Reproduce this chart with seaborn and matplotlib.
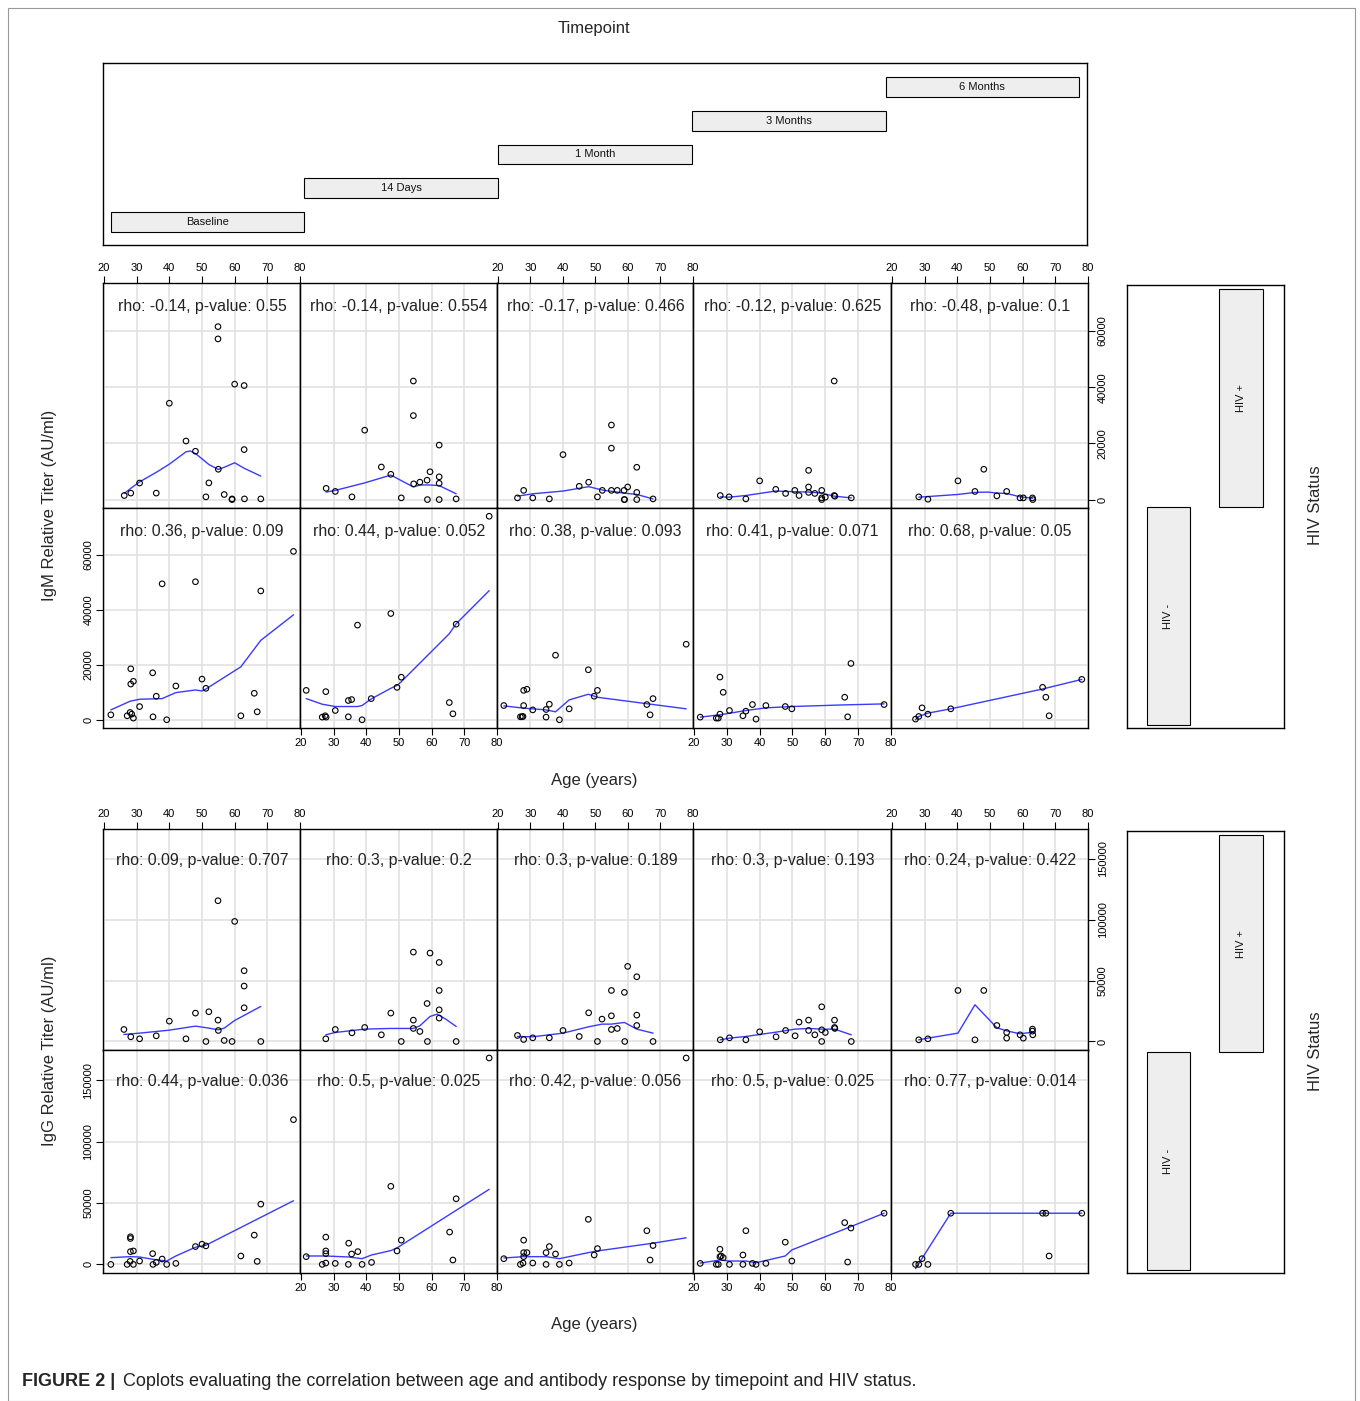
import numpy as np
import pandas as pd
import matplotlib
matplotlib.use('Agg')
import matplotlib.pyplot as plt
from matplotlib.patches import Rectangle
import seaborn as sns

# ---- data ----
timepoints = ['Baseline', '14 Days', '1 Month', '3 Months', '6 Months']
hiv_levels = ['HIV -', 'HIV +']

# IgM, HIV+ (upper row of the IgM coplot)
igm_pos_age = [
    [26.2, 28.2, 30.9, 36.0, 40.0, 45.1, 48.0, 51.2, 52.1, 54.9, 54.9, 55.0, 56.8, 59.2, 59.2, 60.0, 62.9, 62.9, 63.0, 68.0],
    [27.7, 30.5, 35.6, 39.5, 44.6, 47.5, 50.7, 54.4, 54.4, 54.5, 56.4, 58.6, 58.7, 59.5, 62.3, 62.3, 62.3, 62.3, 67.5],
    [26.0, 27.9, 30.7, 35.8, 40.0, 45.0, 47.9, 50.6, 52.1, 54.9, 54.9, 54.9, 56.7, 58.8, 58.9, 58.9, 59.9, 62.7, 62.7, 62.7, 67.7],
    [28.0, 30.7, 35.8, 40.0, 44.9, 47.9, 50.7, 52.0, 54.9, 54.9, 54.9, 56.8, 58.9, 58.9, 58.9, 60.0, 62.7, 62.7, 62.9, 67.9],
    [28.2, 31.0, 40.2, 45.4, 48.1, 52.1, 55.1, 59.2, 60.2, 63.0, 63.1],
]
igm_pos_val = [
    [1450, 2300, 5900, 2300, 34300, 20850, 17200, 970, 5940, 61570, 57200, 10790, 1800, 240, 0, 41090, 40600, 17800, 240, 240],
    [4000, 2900, 970, 24700, 11600, 9000, 600, 42200, 29900, 5600, 6200, 6900, 0, 9900, 19400, 8100, 5800, 0, 240],
    [600, 3270, 600, 240, 16000, 4730, 6180, 970, 3270, 26540, 18300, 3270, 3270, 3270, 0, 0, 4480, 11500, 2550, 0, 240],
    [1450, 970, 240, 6670, 3640, 2180, 3270, 1450, 10400, 4480, 2550, 2180, 3270, 600, 0, 850, 42200, 1450, 1210, 600],
    [970, 120, 6670, 2900, 10790, 1330, 2900, 600, 600, 600, 0],
]
igm_pos_fit_age = [
    [26.2, 28.2, 30.9, 36.0, 40.0, 45.1, 46.4, 48.0, 52.1, 55.0, 56.8, 60.0, 62.9, 68.0],
    [27.7, 30.5, 39.5, 47.5, 54.4, 56.4, 59.5, 62.3, 67.5],
    [26.0, 30.7, 40.0, 47.9, 52.1, 58.8, 62.7, 67.7],
    [28.0, 30.7, 35.8, 44.9, 50.7, 54.9, 58.9, 62.7, 67.9],
    [28.2, 40.2, 45.4, 49.4, 52.1, 55.1, 59.2, 63.1],
]
igm_pos_fit_val = [
    [2180, 4000, 6300, 9700, 12600, 17000, 17300, 16400, 12500, 10700, 11500, 13100, 11150, 8360],
    [2670, 3270, 5940, 8730, 4480, 5200, 5200, 4970, 2060],
    [1210, 2060, 3030, 4600, 3390, 2300, 1820, 240],
    [970, 850, 1450, 3030, 2790, 2670, 2300, 1210, 600],
    [850, 1820, 2550, 2670, 2300, 2180, 970, 480],
]

# IgM, HIV- (lower row of the IgM coplot)
igm_neg_age = [
    [22.1, 27.1, 28.0, 28.2, 28.2, 28.5, 29.0, 29.0, 30.9, 34.9, 35.0, 36.0, 37.8, 39.2, 42.0, 48.0, 50.0, 51.2, 61.9, 66.0, 66.9, 68.0, 78.0],
    [21.6, 26.5, 27.4, 27.6, 27.7, 30.5, 34.5, 34.5, 35.5, 37.3, 38.7, 41.5, 47.5, 49.4, 50.7, 65.4, 66.5, 67.5, 77.6],
    [21.8, 26.9, 27.4, 27.7, 27.9, 27.9, 28.9, 30.7, 34.8, 34.8, 35.8, 37.7, 38.9, 41.9, 47.8, 49.6, 50.6, 65.8, 66.8, 67.7, 77.9],
    [21.9, 26.8, 27.4, 27.9, 27.9, 28.9, 30.8, 34.9, 35.8, 37.8, 38.9, 41.9, 47.8, 49.8, 65.9, 66.8, 67.8, 77.9],
    [27.2, 28.2, 29.2, 31.0, 38.0, 66.1, 67.1, 68.1, 78.1],
]
igm_neg_val = [
    [1800, 1450, 2650, 18560, 13000, 2050, 14000, 600, 4800, 17100, 1080, 8560, 49500, 0, 12300, 50250, 14800, 11450, 1450, 9640, 2900, 46900, 61300],
    [10700, 960, 1450, 10240, 960, 3370, 1080, 7000, 7350, 34460, 0, 7700, 38680, 11800, 15500, 6270, 2170, 34800, 74100],
    [5180, 1080, 1080, 1200, 5180, 10700, 11100, 3600, 3740, 960, 5660, 23500, 0, 3980, 18200, 8560, 10700, 5540, 1800, 7700, 27500],
    [960, 600, 600, 2050, 15540, 10000, 3370, 1450, 3130, 5540, 240, 5180, 4820, 3980, 8200, 1080, 20500, 5540],
    [240, 1200, 4340, 2050, 3980, 11800, 8200, 1450, 14700],
]
igm_neg_fit_age = [
    [22.1, 28.0, 30.9, 37.8, 42.0, 48.0, 50.0, 51.2, 61.9, 68.0, 78.0],
    [21.6, 26.5, 30.5, 37.3, 38.7, 41.5, 47.5, 49.4, 50.7, 65.4, 67.5, 77.6],
    [21.8, 27.9, 34.8, 37.7, 41.9, 47.8, 50.6, 77.9],
    [21.9, 27.9, 35.8, 41.9, 49.8, 65.9, 77.9],
    [27.2, 28.2, 31.0, 38.0, 66.1, 78.1],
]
igm_neg_fit_val = [
    [3600, 6750, 7470, 7710, 9880, 10850, 10480, 11200, 19280, 28920, 38200],
    [7700, 5660, 4820, 4820, 5180, 7600, 11450, 12530, 13860, 31330, 34950, 47000],
    [5060, 4220, 3600, 2890, 7230, 9280, 8190, 3980],
    [960, 1800, 3370, 4340, 4820, 5420, 5780],
    [0, 1200, 2410, 3980, 11200, 14700],
]

# IgG, HIV+
igg_pos_age = [
    [26.1, 28.2, 30.9, 36.0, 40.0, 45.1, 48.0, 51.2, 52.1, 54.9, 54.9, 55.0, 56.8, 59.2, 60.0, 62.9, 62.9, 62.9, 68.0],
    [27.6, 30.5, 35.6, 39.5, 44.6, 47.5, 50.7, 54.4, 54.4, 54.4, 56.4, 58.6, 58.7, 59.5, 62.3, 62.3, 62.3, 62.3, 67.5],
    [26.0, 27.9, 30.7, 35.8, 40.0, 45.0, 47.9, 50.6, 52.0, 54.9, 54.9, 54.9, 56.7, 58.9, 59.0, 59.9, 62.7, 62.7, 62.7, 67.7],
    [28.0, 30.8, 35.8, 40.0, 45.0, 47.9, 50.8, 52.0, 54.9, 54.9, 56.8, 58.9, 58.9, 58.9, 60.0, 62.8, 62.8, 62.9, 67.9],
    [28.2, 31.0, 40.2, 45.4, 48.1, 52.1, 55.1, 55.1, 59.2, 60.2, 63.0, 63.0, 63.1],
]
igg_pos_val = [
    [9860, 3840, 2190, 4660, 16700, 2190, 23300, 0, 24400, 115600, 17540, 9040, 820, 0, 98600, 58100, 45500, 27700, 0],
    [2190, 9860, 7120, 11500, 5480, 23300, 0, 73400, 17540, 10700, 8220, 31200, 0, 72600, 64900, 41900, 26000, 19200, 0],
    [4930, 1640, 3010, 3010, 9040, 4110, 23560, 0, 18360, 21100, 9860, 41900, 10700, 40300, 0, 61650, 53160, 21650, 13150, 0],
    [1370, 3010, 1370, 7950, 3840, 9040, 4660, 15900, 17540, 9040, 5480, 28500, 9590, 0, 7400, 17540, 11500, 10700, 0],
    [1370, 2190, 41900, 1370, 41900, 13150, 7400, 2740, 5480, 2740, 10140, 8500, 5480],
]
igg_pos_fit_age = [
    [26.1, 30.9, 40.0, 48.0, 52.1, 55.0, 56.8, 60.0, 68.0],
    [27.6, 30.5, 39.5, 47.5, 54.4, 56.4, 59.5, 61.7, 64.3, 67.5],
    [26.0, 30.7, 40.0, 47.9, 52.0, 54.9, 58.9, 62.7, 67.7],
    [28.0, 30.8, 35.8, 45.0, 50.8, 54.9, 58.9, 62.8, 67.9],
    [28.2, 31.0, 40.2, 45.4, 52.1, 55.1, 59.2, 63.1],
]
igg_pos_fit_val = [
    [5750, 6850, 9300, 12600, 10960, 9590, 10960, 17260, 28770],
    [5480, 7400, 10140, 10700, 10700, 12900, 20550, 22470, 18360, 12330],
    [4110, 3840, 6850, 12060, 14250, 14250, 15620, 10140, 6850],
    [1370, 2740, 4110, 7670, 10140, 10700, 10140, 10140, 5480],
    [1370, 2740, 6850, 30140, 11230, 8770, 6300, 7670],
]

# IgG, HIV-
igg_neg_age = [
    [22.1, 27.1, 28.0, 28.1, 28.1, 28.1, 29.0, 29.0, 30.9, 34.9, 35.0, 36.0, 37.8, 39.2, 42.0, 48.0, 50.0, 51.2, 61.9, 66.0, 66.9, 68.0, 78.0],
    [21.6, 26.5, 27.6, 27.6, 27.6, 27.6, 30.5, 34.5, 34.6, 35.5, 37.4, 38.7, 41.6, 47.5, 49.4, 50.7, 65.5, 66.5, 67.5, 77.6],
    [21.8, 26.9, 27.7, 27.9, 27.9, 28.9, 27.9, 30.7, 34.8, 34.8, 35.8, 37.7, 38.9, 41.9, 47.8, 49.6, 50.6, 65.8, 66.8, 67.7, 77.9],
    [21.9, 26.8, 27.4, 27.9, 27.9, 28.3, 28.9, 30.8, 34.9, 34.9, 35.8, 37.8, 38.9, 41.9, 47.8, 49.8, 65.9, 66.8, 67.8, 77.9],
    [27.2, 28.2, 29.2, 31.0, 38.0, 66.1, 67.1, 68.1, 78.1],
]
igg_neg_val = [
    [0, 0, 2470, 10400, 21100, 22470, 10960, 0, 2740, 8770, 0, 1640, 4380, 0, 820, 14520, 16440, 15070, 6850, 23840, 2470, 49050, 117800],
    [6300, 0, 1100, 10960, 8770, 22200, 820, 0, 17260, 8490, 10400, 0, 1640, 63570, 10960, 19730, 26300, 3560, 53430, 168000],
    [4660, 0, 1100, 6300, 9590, 9590, 19730, 1100, 9590, 0, 14520, 8490, 0, 1100, 36700, 7670, 12880, 27400, 3560, 15340, 168000],
    [820, 0, 0, 6300, 12330, 6850, 5480, 0, 0, 7670, 27400, 820, 0, 820, 18080, 2740, 33980, 1920, 29600, 41650],
    [0, 0, 4660, 0, 41650, 41650, 41650, 6850, 41650],
]
igg_neg_fit_age = [
    [22.1, 28.0, 30.9, 35.0, 39.2, 42.0, 48.0, 51.2, 78.0],
    [21.6, 27.6, 34.5, 38.7, 41.6, 47.5, 49.4, 77.6],
    [21.8, 27.9, 34.8, 38.9, 47.8, 50.6, 67.7, 77.9],
    [21.9, 27.9, 30.8, 35.8, 38.9, 47.8, 49.8, 65.9, 77.9],
    [27.2, 38.0, 78.1],
]
igg_neg_fit_val = [
    [5480, 6300, 6030, 4110, 2740, 6850, 13970, 15620, 51790],
    [6850, 6850, 6030, 4660, 7670, 11230, 13430, 61100],
    [5210, 6300, 6300, 4660, 9590, 10960, 17260, 21650],
    [1100, 3560, 2740, 2740, 1370, 6850, 11780, 28770, 41650],
    [-3500, 41650, 41650],
]

igm_pos_labels = ['rho: -0.14, p-value: 0.55', 'rho: -0.14, p-value: 0.554', 'rho: -0.17, p-value: 0.466',
                  'rho: -0.12, p-value: 0.625', 'rho: -0.48, p-value: 0.1']
igm_neg_labels = ['rho: 0.36, p-value: 0.09', 'rho: 0.44, p-value: 0.052', 'rho: 0.38, p-value: 0.093',
                  'rho: 0.41, p-value: 0.071', 'rho: 0.68, p-value: 0.05']
igg_pos_labels = ['rho: 0.09, p-value: 0.707', 'rho: 0.3, p-value: 0.2', 'rho: 0.3, p-value: 0.189',
                  'rho: 0.3, p-value: 0.193', 'rho: 0.24, p-value: 0.422']
igg_neg_labels = ['rho: 0.44, p-value: 0.036', 'rho: 0.5, p-value: 0.025', 'rho: 0.42, p-value: 0.056',
                  'rho: 0.5, p-value: 0.025', 'rho: 0.77, p-value: 0.014']

age_ticks = [20, 30, 40, 50, 60, 70, 80]
igm_ticks = [0, 20000, 40000, 60000]
igg_ticks = [0, 50000, 100000, 150000]

# ---- drawing ----
sns.set_theme(style='white')
plt.rcParams['font.family'] = ['Liberation Sans', 'DejaVu Sans']

W, H = 1360, 1401
fig = plt.figure(figsize=(W / 100, H / 100), dpi=100)
fig.patch.set_facecolor('white')

GRID = '#e2e2e2'
BOX = '#eeeeee'
LINE = '#3a3aff'


def px_axes(x0, y0, x1, y1):
    return fig.add_axes([x0 / W, 1 - y1 / H, (x1 - x0) / W, (y1 - y0) / H])


def ftext(x, y, s, **kw):
    fig.text(x / W, 1 - y / H, s, **kw)


def frame(ax):
    for sp in ax.spines.values():
        sp.set_visible(True)
        sp.set_color('black')
        sp.set_linewidth(1.0)


col_edges = [103, 300, 497, 693, 891, 1088]

blocks = [
    dict(rows=(283, 508, 728), ylim=(-3000, 77100), ticks=igm_ticks, text_y=68700,
         data=[(igm_pos_age, igm_pos_val, igm_pos_fit_age, igm_pos_fit_val, igm_pos_labels),
               (igm_neg_age, igm_neg_val, igm_neg_fit_age, igm_neg_fit_val, igm_neg_labels)],
         ylabel='IgM Relative Titer (AU/ml)', xlab_y=780),
    dict(rows=(829, 1050, 1273), ylim=(-7000, 174500), ticks=igg_ticks, text_y=148500,
         data=[(igg_pos_age, igg_pos_val, igg_pos_fit_age, igg_pos_fit_val, igg_pos_labels),
               (igg_neg_age, igg_neg_val, igg_neg_fit_age, igg_neg_fit_val, igg_neg_labels)],
         ylabel='IgG Relative Titer (AU/ml)', xlab_y=1324),
]

for blk in blocks:
    rows = blk['rows']
    for r in range(2):
        ages, vals, fa, fv, labels = blk['data'][r]
        for c in range(5):
            ax = px_axes(col_edges[c], rows[r], col_edges[c + 1], rows[r + 1])
            ax.set_xlim(19.7, 79.9)
            ax.set_ylim(blk['ylim'])
            for x in age_ticks:
                ax.axvline(x, color=GRID, lw=1.2, zorder=0)
            for y in blk['ticks']:
                ax.axhline(y, color=GRID, lw=1.2, zorder=0)
            sns.lineplot(x=fa[c], y=fv[c], ax=ax, color=LINE, linewidth=1.0,
                         sort=False, estimator=None, zorder=2)
            sns.scatterplot(x=ages[c], y=vals[c], ax=ax, marker='o', s=16,
                            facecolor='none', edgecolor='black', linewidth=0.8, zorder=3)
            ax.text(50, blk['text_y'], labels[c], ha='center', va='center',
                    fontsize=11.4, color='#222222')
            ax.set_xlabel('')
            ax.set_ylabel('')
            frame(ax)

            top_lab = (r == 0 and c in (0, 2, 4))
            bot_lab = (r == 1 and c in (1, 3))
            ax.set_xticks(age_ticks, labels=[str(t) for t in age_ticks])
            ax.tick_params(axis='x', top=top_lab, labeltop=top_lab, bottom=bot_lab,
                           labelbottom=bot_lab, direction='out', length=5, width=0.8,
                           labelsize=8, pad=2, colors='black')
            left_lab = (r == 1 and c == 0)
            right_lab = (r == 0 and c == 4)
            ax.set_yticks(blk['ticks'], labels=[str(t) for t in blk['ticks']])
            ax.tick_params(axis='y', left=left_lab, labelleft=left_lab, right=right_lab,
                           labelright=right_lab, direction='out', length=5, width=0.8,
                           labelsize=8, pad=2, colors='black', labelrotation=90)
            for lab in ax.get_yticklabels():
                lab.set_va('center')

    # HIV status shingle panel
    hx = px_axes(1127, rows[0] + 2, 1284, rows[2])
    hx.set_xlim(0.428, 2.593)
    hx.set_ylim(-0.014, 2.018)
    hx.bar([1, 2], [1, 1], bottom=[0, 1], width=0.6, color=BOX, edgecolor='black', linewidth=0.8)
    for i, lev in enumerate(hiv_levels):
        hx.text(i + 1, i + 0.5, lev, rotation=90, ha='center', va='center', fontsize=8, color='#111111')
    hx.set_xticks([])
    hx.set_yticks([])
    frame(hx)
    ftext(1315, (rows[0] + rows[2]) / 2, 'HIV Status', rotation=90, ha='center', va='center', fontsize=12)

    ftext(50, (rows[0] + rows[2]) / 2, blk['ylabel'], rotation=90, ha='center', va='center', fontsize=12)
    ftext(594, blk['xlab_y'], 'Age (years)', ha='center', va='center', fontsize=12)

# Timepoint shingle panel
tx = px_axes(103, 63, 1087, 245)
tx.set_xlim(-0.04, 5.04)
tx.set_ylim(0.318, 5.71)
levels = np.arange(len(timepoints))
tx.barh(levels + 1, [1] * len(timepoints), left=levels, height=0.59, color=BOX,
        edgecolor='black', linewidth=0.8)
for i, tp in enumerate(timepoints):
    tx.text(i + 0.5, i + 1, tp, ha='center', va='center', fontsize=8, color='#111111')
tx.set_xticks([])
tx.set_yticks([])
frame(tx)
ftext(594, 28, 'Timepoint', ha='center', va='center', fontsize=12)

# caption and outer frame
ftext(22, 1381, 'FIGURE 2 |', ha='left', va='center', fontsize=13, fontweight='bold')
ftext(123, 1381, 'Coplots evaluating the correlation between age and antibody response by timepoint and HIV status.',
      ha='left', va='center', fontsize=13, color='#222222')
fig.patches.append(Rectangle((8 / W, 0), (1355 - 8) / W, 1 - 8 / H, transform=fig.transFigure,
                             fill=False, edgecolor='#999999', linewidth=0.8))

fig.savefig('out.png', dpi=100)
